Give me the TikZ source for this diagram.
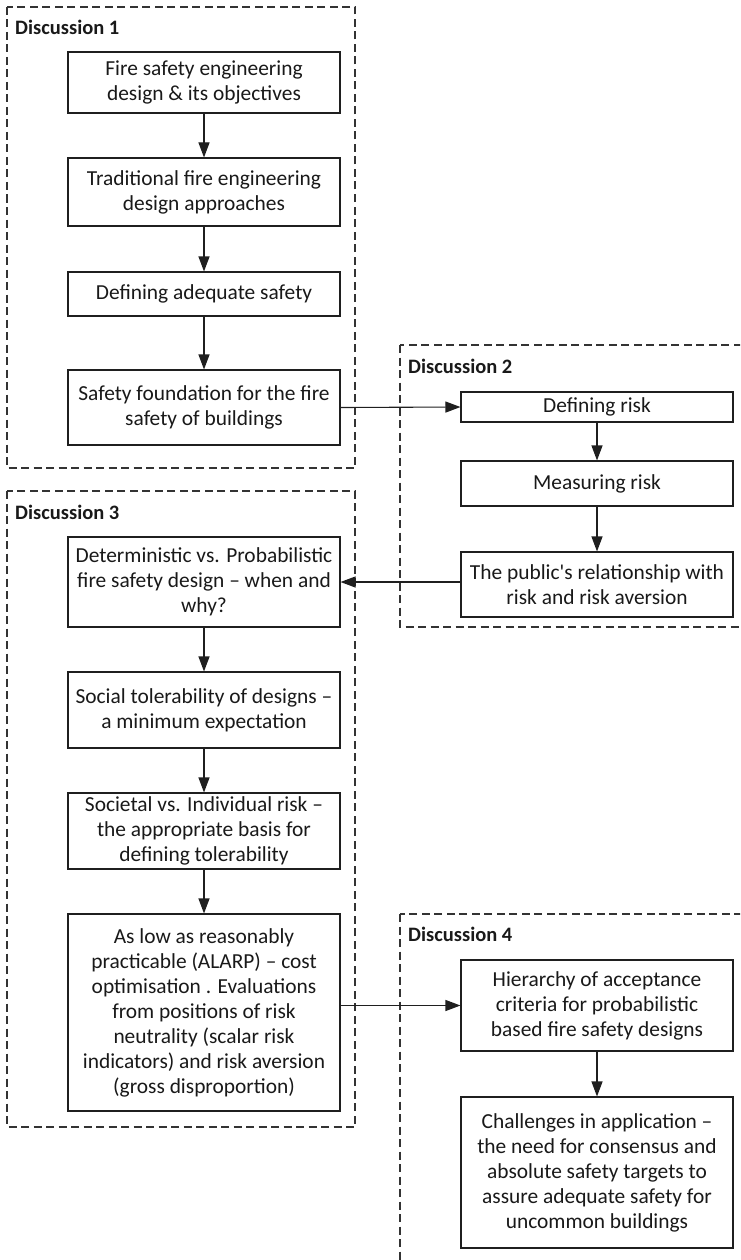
\documentclass[tikz,border=0pt]{standalone}
\usepackage{fontspec}
\setmainfont{Carlito}
\usetikzlibrary{arrows.meta}
\begin{document}
\begin{tikzpicture}[x=1pt,y=-1pt,
  topic/.style={draw=black!88, line width=1.1pt, fill=white, minimum width=272pt,
    inner sep=2pt, align=center, text=black!90, font=\fontsize{21.4}{25}\selectfont},
  frame/.style={draw=black!80, line width=1.1pt, dash pattern=on 8pt off 4.5pt},
  frametitle/.style={anchor=west, inner sep=0pt, text=black!90, font=\fontsize{20.5}{24}\selectfont\bfseries},
  flow/.style={draw=black!88, line width=1.1pt, -{Triangle[length=15pt,width=11pt]}}]
\useasboundingbox (0,0) rectangle (740,1260);
\clip (0,0) rectangle (740,1260);

% discussion frames
\draw[frame] (7,7) rectangle (355,468);
\draw[frame] (400,345) rectangle (770,627);
\draw[frame] (7,491) rectangle (355,1127);
\draw[frame] (400,914) rectangle (770,1290);

\node[frametitle] (t1) at (15,27) {Discussion 1};
\node[frametitle] (t2) at (408,366) {Discussion 2};
\node[frametitle] (t3) at (15,512) {Discussion 3};
\node[frametitle] (t4) at (408,934) {Discussion 4};

% Discussion 1
\node[topic, minimum height=61pt] (b1) at (204,82.5) {Fire safety engineering\\design \& its objectives};
\node[topic, minimum height=68pt] (b2) at (204,192) {Traditional fire engineering\\design approaches};
\node[topic, minimum height=44pt] (b3) at (204,294) {Defining adequate safety};
\node[topic, minimum height=75pt] (b4) at (204,407.5) {Safety foundation for the fire\\safety of buildings};

% Discussion 2
\node[topic, minimum height=30pt] (c1) at (597,407) {Defining risk};
\node[topic, minimum height=45pt] (c2) at (597,483.5) {Measuring risk};
\node[topic, minimum height=65pt] (c3) at (597,584.5) {The public\textquotesingle s relationship with\\risk and risk aversion};

% Discussion 3
\node[topic, minimum height=90pt] (a1) at (204,582) {Deterministic vs. Probabilistic\\fire safety design -- when and\\why?};
\node[topic, minimum height=76pt] (a2) at (204,710) {Social tolerability of designs --\\a minimum expectation};
\node[topic, minimum height=76pt] (a3) at (204,831) {Societal vs. Individual risk --\\the appropriate basis for\\defining tolerability};
\node[topic, minimum height=197pt] (a4) at (204,1012.5) {As low as reasonably\\practicable (ALARP) -- cost\\optimisation . Evaluations\\from positions of risk\\neutrality (scalar risk\\indicators) and risk aversion\\(gross disproportion)};

% Discussion 4
\node[topic, minimum height=91pt] (e1) at (597,1005.5) {Hierarchy of acceptance\\criteria for probabilistic\\based fire safety designs};
\node[topic, minimum height=151pt] (e2) at (597,1172.5) {Challenges in application --\\the need for consensus and\\absolute safety targets to\\assure adequate safety for\\uncommon buildings};

% connectors
\draw[flow] (b1) -- (b2);
\draw[flow] (b2) -- (b3);
\draw[flow] (b3) -- (b4);
\draw[flow] (b4.east) -- (c1.west);
\draw[flow] (c1) -- (c2);
\draw[flow] (c2) -- (c3);
\draw[flow] (c3.west |- a1.east) -- (a1.east);
\draw[flow] (a1) -- (a2);
\draw[flow] (a2) -- (a3);
\draw[flow] (a3) -- (a4);
\draw[flow] (a4.east |- e1.west) -- (e1.west);
\draw[flow] (e1) -- (e2);
\end{tikzpicture}
\end{document}
